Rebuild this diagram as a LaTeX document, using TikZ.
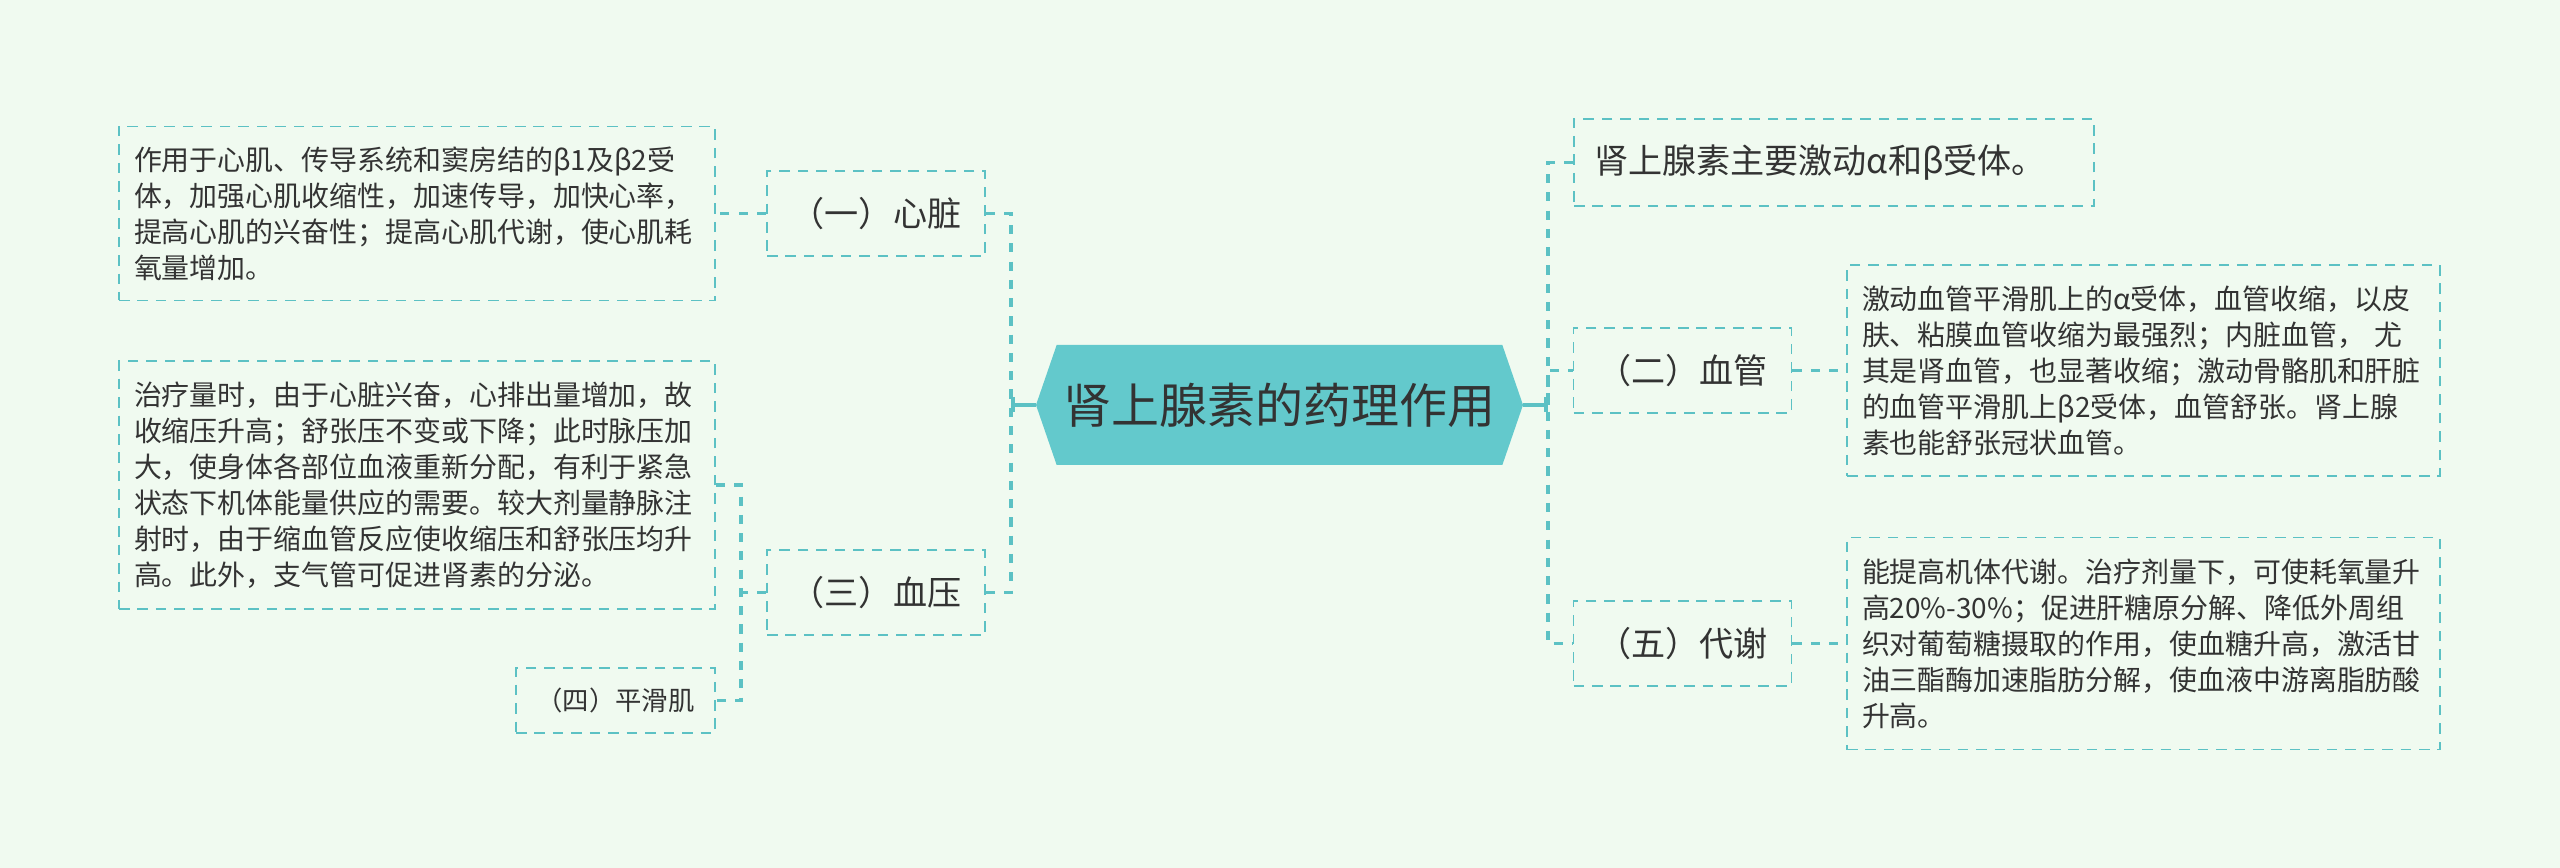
\documentclass[tikz,border=0pt]{standalone}
\usepackage{fontspec}
\setmainfont{Noto Sans CJK SC}
\usetikzlibrary{shapes.symbols, arrows.meta}
\definecolor{bgmint}{HTML}{F0FAF0}
\definecolor{linecyan}{HTML}{5CC1C4}
\definecolor{hexfill}{HTML}{63C9CC}
\definecolor{inkgray}{HTML}{333333}
\begin{document}
\begin{tikzpicture}[
		every node/.style={text=inkgray},
		title/.style={signal, signal to=west and east, signal pointer angle=142, fill=hexfill, minimum width=9.74cm, minimum height=2.4cm, inner sep=0pt, font=\fontsize{27.3}{32}\selectfont},
		topic/.style={draw=linecyan, dash pattern=on 6pt off 4.5pt, line width=1.1pt, minimum width=4.36cm, minimum height=1.7cm, inner sep=0pt, font=\fontsize{19.4}{24}\selectfont},
		detail/.style={draw=linecyan, dash pattern=on 6pt off 4.5pt, line width=1.1pt, align=left, text width=11.32cm, inner xsep=0.3cm, inner ysep=0pt, font=\fontsize{15.9}{20.5}\selectfont},
		link/.style={linecyan, dash pattern=on 5.2pt off 5.2pt, line width=2.1pt},
		stem/.style={linecyan, line width=2.1pt, -{Bar[width=0.3cm, line width=2.1pt]}},
	]
	\fill[bgmint] (0,0) rectangle (51.2,-17.36);

	\node[title] (root) at (25.59,-8.1) {肾上腺素的药理作用};

	\node[topic] (heart) at (17.52,-4.27) {（一）心脏};
	\node[topic] (bp) at (17.52,-11.85) {（三）血压};
	\node[detail, minimum height=3.48cm] (heartnote) at (8.34,-4.27) {作用于心肌、传导系统和窦房结的β1及β2受\\体，加强心肌收缩性，加速传导，加快心率，\\提高心肌的兴奋性；提高心肌代谢，使心肌耗\\氧量增加。};
	\node[detail, minimum height=4.96cm] (bpnote) at (8.34,-9.7) {治疗量时，由于心脏兴奋，心排出量增加，故\\收缩压升高；舒张压不变或下降；此时脉压加\\大，使身体各部位血液重新分配，有利于紧急\\状态下机体能量供应的需要。较大剂量静脉注\\射时，由于缩血管反应使收缩压和舒张压均升\\高。此外，支气管可促进肾素的分泌。};
	\node[topic, minimum width=3.98cm, minimum height=1.3cm, font=\fontsize{15}{18}\selectfont] (muscle) at (12.31,-14.01) {（四）平滑肌};

	\node[topic, minimum width=10.4cm, minimum height=1.74cm, text width=9.6cm, align=left] (receptor) at (36.68,-3.25) {肾上腺素主要激动α和β受体。};
	\node[topic] (vessel) at (33.65,-7.41) {（二）血管};
	\node[topic] (metab) at (33.65,-12.87) {（五）代谢};
	\node[detail, text width=11.26cm, minimum height=4.22cm] (vesselnote) at (42.87,-7.41) {激动血管平滑肌上的α受体，血管收缩，以皮\\肤、粘膜血管收缩为最强烈；内脏血管， 尤\\其是肾血管，也显著收缩；激动骨骼肌和肝脏\\的血管平滑肌上β2受体，血管舒张。肾上腺\\素也能舒张冠状血管。};
	\node[detail, text width=11.26cm, minimum height=4.24cm] (metabnote) at (42.87,-12.87) {能提高机体代谢。治疗剂量下，可使耗氧量升\\高20\%-30\%；促进肝糖原分解、降低外周组\\织对葡萄糖摄取的作用，使血糖升高，激活甘\\油三酯酶加速脂肪分解，使血液中游离脂肪酸\\升高。};

	\coordinate (lhub) at (20.22,-8.1);
	\coordinate (rhub) at (30.96,-8.1);
	\coordinate (bphub) at (14.82,-11.85);

	\draw[stem] (root.west) -- (lhub);
	\draw[stem] (root.east) -- (rhub);
	\draw[link] (heart.east) -| (lhub) |- (bp.east);
	\draw[link] (receptor.west) -| (rhub) |- (metab.west);
	\draw[link] (rhub) |- (vessel.west);
	\draw[link] (heart.west) -- (heartnote.east);
	\draw[link] (bp.west) -- (bphub);
	\draw[link] (bpnote.east) -| (bphub) |- (muscle.east);
	\draw[link] (vessel.east) -- (vesselnote.west);
	\draw[link] (metab.east) -- (metabnote.west);
\end{tikzpicture}
\end{document}
